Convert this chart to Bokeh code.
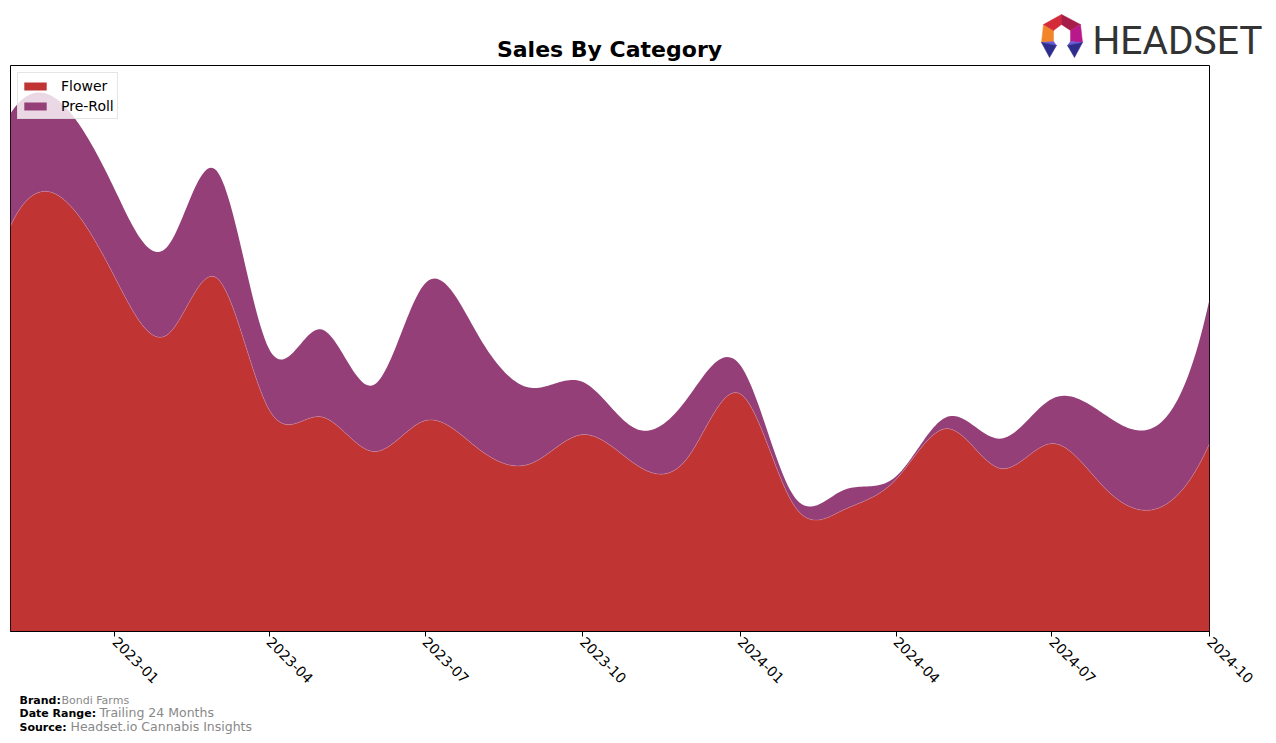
import numpy as np
from math import pi
from bokeh.plotting import figure
from bokeh.models import (Range1d, FixedTicker, DatetimeTickFormatter, Legend,
                          LegendItem, ColumnDataSource)
from bokeh.layouts import column
from bokeh.embed import file_html
from bokeh.resources import INLINE
from bokeh.core.properties import value

# ---------------- data ----------------
months = ["2022-11", "2022-12", "2023-01", "2023-02", "2023-03", "2023-04",
          "2023-05", "2023-06", "2023-07", "2023-08", "2023-09", "2023-10",
          "2023-11", "2023-12", "2024-01", "2024-02", "2024-03", "2024-04",
          "2024-05", "2024-06", "2024-07", "2024-08", "2024-09", "2024-10"]
flower = [408, 436, 356, 299, 356, 223, 216, 181, 212, 184, 169, 198,
          168, 174, 239, 128, 122, 153, 204, 164, 189, 144, 124, 189]
preroll = [113, 95, 88, 89, 108, 61, 88, 67, 138, 114, 76, 53,
           36, 60, 29, 9, 20, 3, 12, 30, 45, 74, 84, 145]
tick_months = ["2023-01", "2023-04", "2023-07", "2023-10",
               "2024-01", "2024-04", "2024-07", "2024-10"]
categories = ["Flower", "Pre-Roll"]
title_text = "Sales By Category"
footer_keys = ["Brand:", "Date Range:", "Source:"]
footer_vals = ["Bondi Farms", "Trailing 24 Months", "Headset.io Cannabis Insights"]
logo_text = "HEADSET"

FLOWER_COLOR = "#c03434"
PREROLL_COLOR = "#953f78"


def month_ms(m):
    return np.datetime64(m + "-01").astype("datetime64[ms]").astype(np.int64)


def cubic_spline(x, y, xs):
    """not-a-knot cubic spline used only to draw the smooth outline"""
    x = np.asarray(x, float)
    y = np.asarray(y, float)
    n = len(x)
    h = np.diff(x)
    A = np.zeros((n, n))
    b = np.zeros(n)
    A[0, 0], A[0, 1], A[0, 2] = h[1], -(h[0] + h[1]), h[0]
    A[-1, -3], A[-1, -2], A[-1, -1] = h[-1], -(h[-2] + h[-1]), h[-2]
    for i in range(1, n - 1):
        A[i, i - 1] = h[i - 1]
        A[i, i] = 2 * (h[i - 1] + h[i])
        A[i, i + 1] = h[i]
        b[i] = 6 * ((y[i + 1] - y[i]) / h[i] - (y[i] - y[i - 1]) / h[i - 1])
    M = np.linalg.solve(A, b)
    idx = np.clip(np.searchsorted(x, xs, side="right") - 1, 0, n - 2)
    x0, x1 = x[idx], x[idx + 1]
    hh = x1 - x0
    m0, m1 = M[idx], M[idx + 1]
    y0, y1 = y[idx], y[idx + 1]
    return (m0 * (x1 - xs) ** 3 / (6 * hh) + m1 * (xs - x0) ** 3 / (6 * hh)
            + (y0 / hh - m0 * hh / 6) * (x1 - xs)
            + (y1 / hh - m1 * hh / 6) * (xs - x0))


xms = np.array([month_ms(m) for m in months], dtype=float)
xdays = xms / 86400000.0
dense_days = np.linspace(xdays[0], xdays[-1], 600)
flower_s = cubic_spline(xdays, flower, dense_days)
total_s = cubic_spline(xdays, np.array(flower) + np.array(preroll), dense_days)

src = ColumnDataSource(dict(
    x=dense_days * 86400000.0,
    base=np.zeros_like(dense_days),
    f=flower_s,
    t=total_s,
))

y_top = float(total_s.max()) * 1.05

W = 1276

# ---------------- header (title + logo), page pixel coordinates ----------------
h = figure(width=W, height=64, x_range=Range1d(0, W), y_range=Range1d(64, 0),
           output_backend="svg", toolbar_location=None, min_border=0)
h.frame_align = False
h.axis.visible = False
h.grid.visible = False
h.outline_line_color = None

h.text(x=[609], y=[49.3], text=[title_text], text_font=value("DejaVu Sans"),
       text_font_style="bold", text_font_size="22px", text_align="center",
       text_baseline="alphabetic", text_color="black")

logo_xs = [[1043, 1053, 1053, 1041], [1043, 1061, 1061, 1053],
           [1061, 1080, 1070, 1061], [1080, 1082, 1070, 1070],
           [1041, 1053, 1056], [1041, 1056, 1049],
           [1082, 1070, 1067], [1082, 1067, 1074]]
logo_ys = [[24, 30, 41, 42], [24, 14, 24, 30],
           [14, 24, 30, 24], [24, 42, 41, 30],
           [42, 41, 45], [42, 45, 57],
           [42, 41, 45], [42, 45, 57]]
logo_cols = ["#f2852a", "#d42a3a", "#a51d48", "#b8198a",
             "#6a5bd6", "#2f2d8c", "#6a5bd6", "#2f2d8c"]
h.patches(xs=logo_xs, ys=logo_ys, fill_color=logo_cols, line_color=logo_cols,
          line_width=0.5)
h.text(x=[1092], y=[40], text=[logo_text], text_font=value("Roboto"),
       text_font_size="39px", text_color="#333333",
       text_baseline="alphabetic", text_align="left")

# ---------------- main chart ----------------
p = figure(width=W, height=628, x_axis_type="datetime",
           x_range=Range1d(xms[0], xms[-1]), y_range=Range1d(0, y_top),
           output_backend="svg", toolbar_location=None,
           min_border_left=10, min_border_right=67,
           min_border_top=1, min_border_bottom=61)
p.frame_align = False
p.outline_line_color = "black"
p.outline_line_width = 1
p.outline_line_alpha = 1
p.grid.visible = False
p.yaxis.visible = False

r_flower = p.varea(x="x", y1="base", y2="f", source=src,
                   fill_color=FLOWER_COLOR)
r_pre = p.varea(x="x", y1="f", y2="t", source=src,
                fill_color=PREROLL_COLOR)
p.line(x="x", y="f", source=src, line_color="#d9a0b0",
       line_width=0.7, line_alpha=0.5)

xa = p.xaxis[0]
xa.ticker = FixedTicker(ticks=[float(month_ms(m)) for m in tick_months])
fmt = "%Y-%m"
xa.formatter = DatetimeTickFormatter(years=fmt, months=fmt, days=fmt,
                                     hours=fmt, minutes=fmt, seconds=fmt)
xa.major_label_orientation = -pi / 4
xa.major_label_standoff = 3
xa.major_label_text_font = "DejaVu Sans"
xa.major_label_text_font_size = "14px"
xa.major_label_text_color = "black"
xa.major_tick_out = 5
xa.major_tick_in = 0
xa.minor_tick_out = 0
xa.minor_tick_in = 0
xa.major_tick_line_color = "black"
xa.axis_line_color = "black"

legend = Legend(items=[LegendItem(label=value(categories[0]), renderers=[r_flower]),
                       LegendItem(label=value(categories[1]), renderers=[r_pre])],
                location="top_left", margin=7, padding=3, spacing=1,
                glyph_width=28, glyph_height=10, label_height=19,
                label_standoff=12, label_text_font="DejaVu Sans",
                label_text_font_size="14px", label_text_color="black",
                border_line_color="#cccccc", border_line_width=1,
                background_fill_color="white", background_fill_alpha=0.8)
p.add_layout(legend)

# ---------------- footer, page pixel coordinates ----------------
f = figure(width=W, height=51, x_range=Range1d(0, W), y_range=Range1d(743, 692),
           output_backend="svg", toolbar_location=None, min_border=0)
f.frame_align = False
f.axis.visible = False
f.grid.visible = False
f.outline_line_color = None
f.text(x=[19, 19, 19], y=[699.9, 712.9, 726.6], text=footer_keys,
       text_font=value("DejaVu Sans"), text_font_style="bold",
       text_font_size="11px", text_color="black", text_baseline="alphabetic")
f.text(x=[61, 99, 70], y=[699.9, 712.3, 726.0], text=footer_vals,
       text_font=value("DejaVu Sans"),
       text_font_size=["11px", "12.5px", "12.5px"], text_color="#888888",
       text_baseline="alphabetic")

layout = column(h, p, f, spacing=0)
open("out.html", "w").write(file_html(layout, INLINE))
